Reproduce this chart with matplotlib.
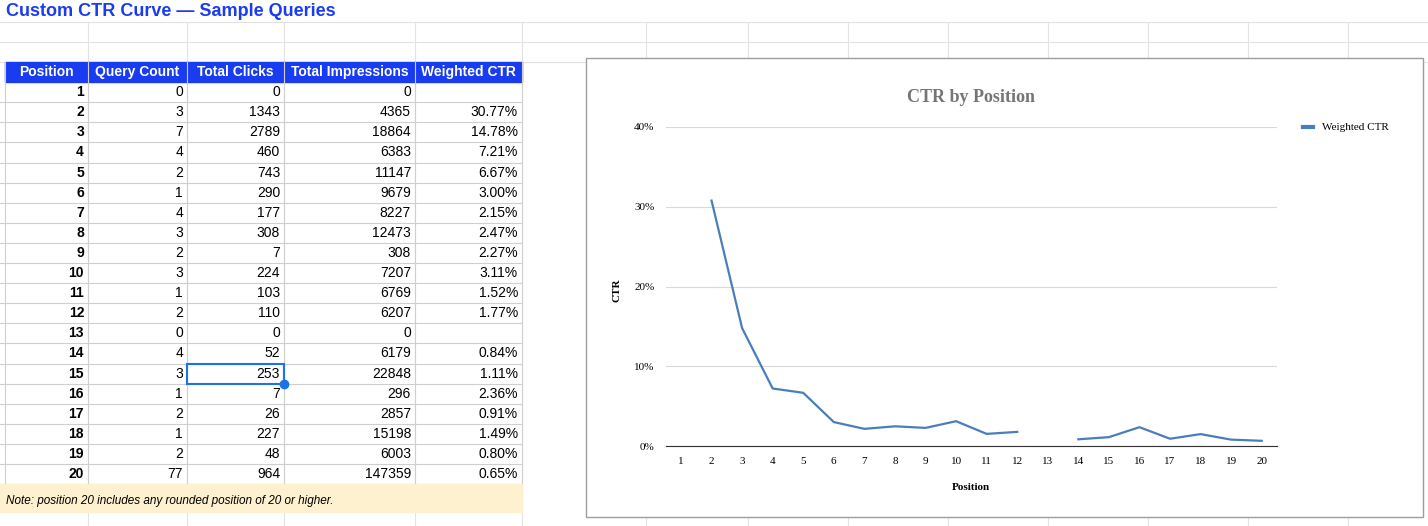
import matplotlib.pyplot as plt
from matplotlib.patches import Rectangle
from matplotlib.ticker import FuncFormatter

plt.rcParams['font.family'] = ['Liberation Sans', 'DejaVu Sans']

positions = list(range(1, 21))
query_count = [0, 3, 7, 4, 2, 1, 4, 3, 2, 3, 1, 2, 0, 4, 3, 1, 2, 1, 2, 77]
total_clicks = [0, 1343, 2789, 460, 743, 290, 177, 308, 7, 224, 103, 110, 0, 52, 253, 7, 26, 227, 48, 964]
total_impr = [0, 4365, 18864, 6383, 11147, 9679, 8227, 12473, 308, 7207, 6769, 6207, 0, 6179, 22848, 296, 2857, 15198, 6003, 147359]
weighted_ctr = [None, 30.77, 14.78, 7.21, 6.67, 3.00, 2.15, 2.47, 2.27, 3.11, 1.52, 1.77, None,
                0.84, 1.11, 2.36, 0.91, 1.49, 0.80, 0.65]
headers = ['Position', 'Query Count', 'Total Clicks', 'Total Impressions', 'Weighted CTR']

fig = plt.figure(figsize=(14.28, 5.26), dpi=100)
bg = fig.add_axes([0, 0, 1, 1])
bg.set_xlim(0, 1428)
bg.set_ylim(526, 0)
bg.axis('off')

# sheet grid
for x in [88, 187, 284, 415, 522, 646, 748, 848, 948, 1048, 1148, 1248, 1348]:
    bg.plot([x, x], [22, 526], color='#e2e2e2', lw=0.8, zorder=1)
for y in [22, 42, 62]:
    bg.plot([0, 1428], [y, y], color='#e2e2e2', lw=0.8, zorder=1)

bg.text(6, 12, 'Custom CTR Curve — Sample Queries', color='#1a3cf0', fontsize=13,
        fontweight='bold', va='center')

cols = [5, 88, 187, 284, 415, 522]
top, rh = 62, 20.1
bg.add_patch(Rectangle((cols[0], top), cols[-1] - cols[0], rh, color='#1a3cf0', zorder=2))
for i, h in enumerate(headers):
    bg.text((cols[i] + cols[i + 1]) / 2, top + rh / 2, h, color='white', fontsize=10,
            fontweight='bold', ha='center', va='center', zorder=5)
for r in range(20):
    yc = top + rh * (r + 1.5)
    yl = top + rh * (r + 2)
    bg.plot([0, 522], [yl, yl], color='#cfcfcf', lw=0.8, zorder=2)
    vals = [str(positions[r]), str(query_count[r]), str(total_clicks[r]), str(total_impr[r]),
            '' if weighted_ctr[r] is None else f'{weighted_ctr[r]:.2f}%']
    bg.text(cols[1] - 4, yc, vals[0], fontsize=10, fontweight='bold', ha='right', va='center')
    for i in range(1, 5):
        bg.text(cols[i + 1] - 4, yc, vals[i], fontsize=10, ha='right', va='center')
for x in cols:
    bg.plot([x, x], [top, top + rh * 21], color='#cfcfcf', lw=0.8, zorder=2)
bg.add_patch(Rectangle((cols[2], top + rh * 15), cols[3] - cols[2], rh, fill=False,
                       ec='#1a73e8', lw=1.5, zorder=4))
bg.plot(cols[3], top + rh * 16, 'o', color='#1a73e8', ms=6, zorder=5)
bg.add_patch(Rectangle((0, top + rh * 21), 522, 28, color='#fdf1cf', zorder=2))
bg.text(6, top + rh * 21 + 17, 'Note: position 20 includes any rounded position of 20 or higher.',
        fontsize=8.5, style='italic', va='center', zorder=5)

# chart box
bg.add_patch(Rectangle((586, 58), 837, 459, fc='white', ec='#9e9e9e', lw=1, zorder=3))
bg.text(971, 97, 'CTR by Position', family='Liberation Serif', fontsize=13, fontweight='bold',
        color='#757575', ha='center', va='center', zorder=5)
bg.text(617, 290, 'CTR', family='Liberation Serif', fontsize=8, fontweight='bold', rotation=90,
        ha='center', va='center', zorder=5)
bg.text(971, 488, 'Position', family='Liberation Serif', fontsize=8, fontweight='bold',
        ha='center', va='center', zorder=5)
bg.plot([1303, 1313], [127, 127], color='#4a7ebb', lw=3, zorder=5)
bg.text(1322, 127, 'Weighted CTR', family='Liberation Serif', fontsize=8, va='center', zorder=5)

ax = fig.add_axes([665.7 / 1428, 1 - 446 / 526, (1277 - 665.7) / 1428, (446 - 127) / 526])
y = [float('nan') if v is None else v / 100 for v in weighted_ctr]
ax.plot(positions, y, color='#4a7ebb', lw=1.6)
ax.set_xlim(0.5, 20.5)
ax.set_ylim(0, 0.4)
ax.set_xticks(positions)
ax.set_yticks([0, 0.1, 0.2, 0.3, 0.4])
ax.yaxis.set_major_formatter(FuncFormatter(lambda v, p: f'{v * 100:.0f}%'))
ax.grid(axis='y', color='#d9d9d9', lw=0.8)
for s in ['top', 'right', 'left']:
    ax.spines[s].set_visible(False)
ax.spines['bottom'].set_color('#333333')
ax.tick_params(length=0, labelsize=8, pad=8)
for t in ax.get_xticklabels() + ax.get_yticklabels():
    t.set_family('Liberation Serif')
ax.patch.set_alpha(0)

fig.savefig('out.png', dpi=100)
